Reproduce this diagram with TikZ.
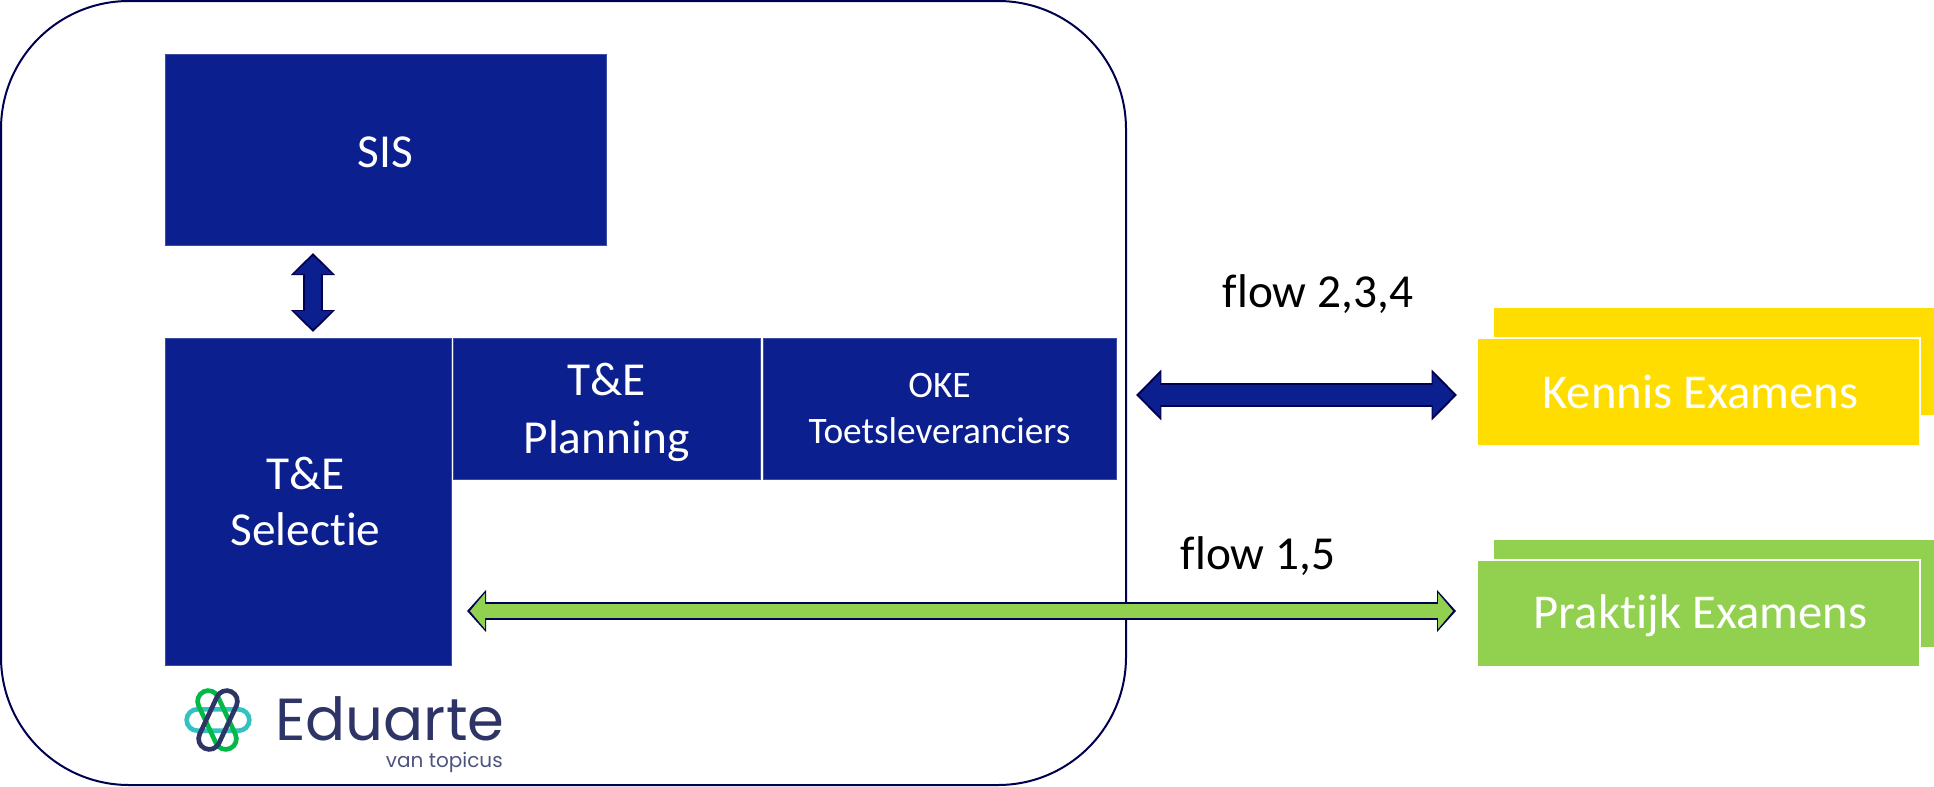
\documentclass[tikz,border=0pt]{standalone}
\usepackage{fontspec}
\setmainfont{Carlito}[RawFeature={-liga}]
\newfontfamily\logofont{Poppins}
\usetikzlibrary{arrows.meta}

\definecolor{navyblock}{HTML}{0C1F8E}
\definecolor{navyedge}{HTML}{000050}
\definecolor{examyellow}{HTML}{FFDD00}
\definecolor{examgreen}{HTML}{92D050}
\definecolor{logonavy}{HTML}{2E3566}

\tikzset{
    bluebox/.style={rectangle,fill=navyblock,draw=navyblock!80!white,line width=0.5pt,text=white,align=center,inner sep=0pt,font=\fontsize{35.5}{42}\selectfont},
    exambox/.style={rectangle,draw=white,line width=1.5pt,text=white,inner sep=0pt,font=\fontsize{36.5}{40}\selectfont},
    flowlabel/.style={text=black,inner sep=0pt,font=\fontsize{35.5}{40}\selectfont},
    blockarrow/.style n args={4}{draw=#4,line width=#1,{Triangle[width=#2,length=#3]}-{Triangle[width=#2,length=#3]}},
    logoloop/.style={rectangle,draw=#1,line width=3.5pt,rounded corners=8pt,minimum width=47pt,minimum height=16pt,inner sep=0pt}
}

\begin{document}
\begin{tikzpicture}[x=0.75pt,y=-0.75pt]
    \useasboundingbox (0,0) rectangle (1934,786);

    % Outer frame
    \draw[navyedge,line width=1.5pt,rounded corners=96pt] (1,1) rectangle (1126,785);

    % Blocks inside the frame
    \node[bluebox,minimum width=331pt,minimum height=143.25pt] (sis) at (385.5,149.5) {\raisebox{-2pt}[\height][\depth]{SIS}};
    \node[bluebox,minimum width=214.5pt,minimum height=245.25pt] (selectie) at (308,501.5) {\hspace*{-3.7pt}\parbox{200pt}{\centering T\&E\\Selectie}};
    \node[bluebox,minimum width=230.25pt,minimum height=106pt] (planning) at (606.5,408.5) {\raisebox{-3pt}[\height][\depth]{\parbox{200pt}{\centering\fontsize{35.5}{43.5}\selectfont T\&E\\Planning}}};
    \node[bluebox,minimum width=265pt,minimum height=106pt,font=\fontsize{28}{34.5}\selectfont] (oke) at (939.5,408.5) {OKE\\Toetsleveranciers};

    % Exam blocks, back sheet first
    \node[rectangle,fill=examyellow,minimum width=330pt,minimum height=80.25pt,inner sep=0pt] (kennisback) at (1714,361.5) {};
    \node[exambox,fill=examyellow,minimum width=332.25pt,minimum height=81pt] (kennis) at (1698,391.5) {\hspace*{3.75pt}Kennis Examens};
    \node[rectangle,fill=examgreen,minimum width=330pt,minimum height=80.25pt,inner sep=0pt] (praktijkback) at (1714,593.5) {};
    \node[exambox,fill=examgreen,minimum width=332.25pt,minimum height=80.25pt] (praktijk) at (1698,613) {\hspace*{3.75pt}\raisebox{-1.8pt}[\height][\depth]{Praktijk Examens}};

    % Flow labels
    \node[flowlabel] (flowa) at (1318,294) {flow 2,3,4};
    \node[flowlabel] (flowb) at (1258,556) {flow 1,5};

    % Free ends of the arrows
    \coordinate (sisend) at (313,253);
    \coordinate (selectieend) at (313,332);
    \coordinate (okeend) at (1136,395);
    \coordinate (kennisend) at (1457,395);
    \coordinate (selectieflow) at (467,611);
    \coordinate (praktijkend) at (1456,611);

    % SIS <-> Selectie
    \draw[blockarrow={15pt}{32.25pt}{16.5pt}{navyedge}] (sisend) -- (selectieend);
    \draw[blockarrow={12pt}{27.75pt}{13.5pt}{navyblock},shorten <=2.25pt,shorten >=2.25pt] (sisend) -- (selectieend);

    % flow 2,3,4
    \draw[blockarrow={18pt}{37pt}{19pt}{navyedge}] (okeend) -- (kennisend);
    \draw[blockarrow={15pt}{31.5pt}{16pt}{navyblock},shorten <=2.25pt,shorten >=2.25pt] (okeend) -- (kennisend);

    % flow 1,5
    \draw[blockarrow={13.5pt}{30.75pt}{14.25pt}{navyedge}] (selectieflow) -- (praktijkend);
    \draw[blockarrow={10.5pt}{26.25pt}{11.25pt}{examgreen},shorten <=2.25pt,shorten >=2.25pt] (selectieflow) -- (praktijkend);

    % Logo
    \node[logoloop=teal!60!cyan!80!white] (loopa) at (218,720) {};
    \node[logoloop=green!45!teal,rotate=-65] (loopb) at (217,720) {};
    \node[logoloop=logonavy,rotate=65] (loopc) at (218,720) {};
    \node[anchor=base west,inner sep=0pt,text=logonavy,font=\logofont\fontsize{44.5}{50}\selectfont] (logoname) at (275,740) {Eduarte};
    \node[anchor=base east,inner sep=0pt,text=logonavy!85!white,font=\logofont\fontsize{15}{18}\selectfont] (logosub) at (503,767) {van topicus};
\end{tikzpicture}
\end{document}
